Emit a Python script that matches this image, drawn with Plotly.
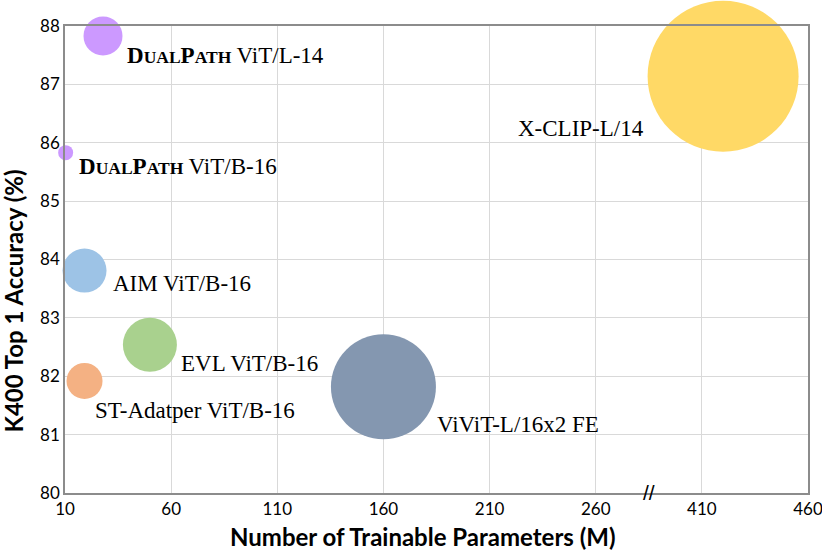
#!/bin/python3

import plotly.graph_objects as go

# Data
models = ['DualPath ViT/L-14', 'DualPath ViT/B-16', 'AIM ViT/B-16', 'EVL ViT/B-16',
          'ST-Adatper ViT/B-16', 'ViViT-L/16x2 FE', 'X-CLIP-L/14']
params_m = [27.9, 10.3, 19.2, 50.0, 19.2, 160.0, 420.0]
top1_acc = [87.83, 85.83, 83.81, 82.54, 81.92, 81.82, 87.14]
bubble_size = [39, 15, 44, 54, 36, 105, 151]

x_ticks = [10, 60, 110, 160, 210, 260, 410, 460]
y_ticks = [80, 81, 82, 83, 84, 85, 86, 87, 88]

# broken x axis: everything past the break is shifted left by the gap
break_at = 260
break_gap = 100
def to_axis(v):
    return v if v <= break_at else v - break_gap

colors = ['#cc99ff', '#cc99ff', '#9dc3e6', '#a9d18e', '#f4b183', '#8497b0', '#ffd966']

# label offsets in pixels from bubble centre (dx, dy)
label_offsets = [(22, -20), (11, -14), (26, -13), (29, -19), (8, -30), (52, -38), (-207, -52)]

sc = "<span style='font-size:17.5px'>"
label_text = [
    "<b>D" + sc + "UAL</span>P" + sc + "ATH</span></b> ViT/L-14",
    "<b>D" + sc + "UAL</span>P" + sc + "ATH</span></b> ViT/B-16",
] + models[2:]

fig = go.Figure()
fig.add_trace(go.Scatter(
    x=[to_axis(v) for v in params_m],
    y=top1_acc,
    mode='markers',
    marker=dict(size=bubble_size, sizemode='diameter', color=colors, opacity=1,
                line=dict(width=0)),
    cliponaxis=False,
    showlegend=False,
    hovertext=models,
))

for i in range(len(models)):
    fig.add_annotation(
        x=to_axis(params_m[i]), y=top1_acc[i],
        text=label_text[i], showarrow=False,
        xanchor='left', yanchor='middle',
        xshift=label_offsets[i][0], yshift=label_offsets[i][1],
        font=dict(family='Liberation Serif, Times New Roman, serif', size=23, color='black'),
    )

# axis break mark
fig.add_annotation(
    x=to_axis(break_at) + 25, y=80, text='//', showarrow=False,
    xanchor='center', yanchor='middle', yshift=1,
    font=dict(family='Liberation Sans, Arial', size=21, color='black'),
)

# axis titles as annotations (they sit a bit off-centre in the original)
title_font = dict(family='Lato, Carlito, Calibri, sans-serif', size=24, color='black')
fig.add_annotation(
    xref='paper', yref='paper', x=0.482, y=0, yshift=-43,
    text='<b>Number of Trainable Parameters (M)</b>', showarrow=False,
    xanchor='center', yanchor='middle', font=title_font,
)
fig.add_annotation(
    xref='paper', yref='paper', x=0, y=0.41, xshift=-51,
    text='<b>K400 Top 1 Accuracy (%)</b>', showarrow=False, textangle=-90,
    xanchor='center', yanchor='middle', font=title_font,
)

fig.update_layout(
    width=822, height=552,
    margin=dict(l=65, r=14, t=26, b=59, autoexpand=False),
    plot_bgcolor='white', paper_bgcolor='white',
    font=dict(family='Lato, Carlito, Calibri, sans-serif', size=17, color='black'),
    xaxis=dict(
        range=[10, to_axis(460)],
        tickvals=[to_axis(v) for v in x_ticks],
        ticktext=[str(v) for v in x_ticks],
        showgrid=True, gridcolor='#d9d9d9', gridwidth=1,
        showline=True, linecolor='#8c8c8c', linewidth=1.5, mirror=True,
        zeroline=False, ticks='', automargin=False, ticklabeloverflow='allow',
    ),
    yaxis=dict(
        range=[80, 88],
        tickvals=y_ticks,
        showgrid=True, gridcolor='#d9d9d9', gridwidth=1,
        showline=True, linecolor='#8c8c8c', linewidth=1.5, mirror=True,
        zeroline=False, ticks='', automargin=False, ticklabeloverflow='allow',
    ),
)

# page body has a default 8px margin, drop it so the figure fills the window
fig.write_html("out.html", config={'displayModeBar': False},
               post_script="document.body.style.margin='0';")
